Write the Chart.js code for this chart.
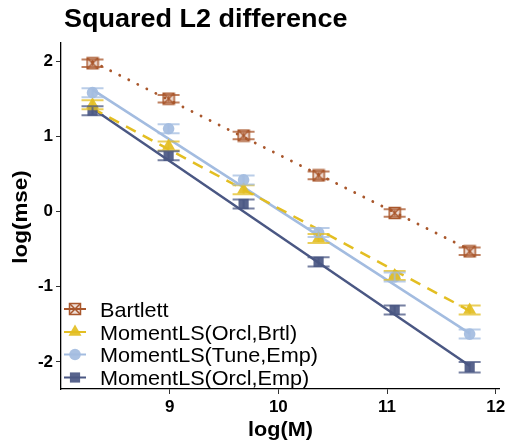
<!DOCTYPE html>
<html>
<head>
<meta charset="utf-8">
<script src="https://cdn.jsdelivr.net/npm/chart.js@4.4.1/dist/chart.umd.min.js"></script>
<style>
  html, body { margin: 0; padding: 0; background: #fff; }
</style>
</head>
<body>
<canvas id="mseChart" width="509" height="442"></canvas>
<script>
// x positions: log(M)
const logM = [8.29, 8.99, 9.68, 10.37, 11.07, 11.76];

// log(mse) per method
const bartlett = [1.97, 1.50, 1.01, 0.48, -0.02, -0.53];
const orclBrtl = [1.42, 0.87, 0.29, -0.36, -0.85, -1.31];
const tuneEmp  = [1.58, 1.10, 0.42, -0.28, -0.87, -1.63];
const orclEmp  = [1.34, 0.74, 0.10, -0.67, -1.31, -2.07];

// half-width of error bars
const bartlettErr = [0.05, 0.05, 0.05, 0.05, 0.05, 0.05];
const orclBrtlErr = [0.06, 0.06, 0.06, 0.06, 0.06, 0.06];
const tuneEmpErr  = [0.06, 0.06, 0.06, 0.06, 0.06, 0.06];
const orclEmpErr  = [0.06, 0.06, 0.06, 0.06, 0.06, 0.07];

// fitted line ends (at first and last log(M))
const fitX        = [8.29, 11.76];
const bartlettFit = [1.99, -0.51];
const orclBrtlFit = [1.37, -1.32];
const tuneEmpFit  = [1.62, -1.62];
const orclEmpFit  = [1.37, -2.05];

const seriesNames = ['Bartlett', 'MomentLS(Orcl,Brtl)', 'MomentLS(Tune,Emp)', 'MomentLS(Orcl,Emp)'];
const xTicks = [9, 10, 11, 12];
const yTicks = [-2, -1, 0, 1, 2];

const colors = ['#A9572C', '#E3BE22', '#A3BCE0', '#4A5783'];
const fills  = ['rgba(169,87,44,0.2)', 'rgba(227,190,34,0.92)', 'rgba(163,188,224,0.92)', 'rgba(74,87,131,0.92)'];

function boxCross(color, fill) {
    const c = document.createElement('canvas');
    c.width = 14; c.height = 14;
    const g = c.getContext('2d');
    g.fillStyle = fill;
    g.fillRect(1.5, 1.5, 11, 11);
    g.strokeStyle = color;
    g.lineWidth = 1.5;
    g.strokeRect(1.5, 1.5, 11, 11);
    g.beginPath();
    g.moveTo(1.5, 1.5); g.lineTo(12.5, 12.5);
    g.moveTo(12.5, 1.5); g.lineTo(1.5, 12.5);
    g.stroke();
    return c;
}

const pointStyles = [boxCross(colors[0], fills[0]), 'triangle', 'circle', 'rect'];
const pointRadii = [6, 7.5, 5.8, 7.2];

const values = [bartlett, orclBrtl, tuneEmp, orclEmp];
const errors = [bartlettErr, orclBrtlErr, tuneEmpErr, orclEmpErr];
const fits = [bartlettFit, orclBrtlFit, tuneEmpFit, orclEmpFit];
const dashes = [[0.1, 10], [11, 8], [], []];

const datasets = [];
values.forEach((vals, k) => {
    datasets.push({
        label: seriesNames[k],
        data: vals.map((v, i) => ({ x: logM[i], y: v })),
        showLine: false,
        pointStyle: pointStyles[k],
        pointRadius: pointRadii[k],
        pointBackgroundColor: fills[k],
        pointBorderColor: fills[k],
        pointBorderWidth: 0,
        order: 0
    });
});
fits.forEach((f, k) => {
    datasets.push({
        label: seriesNames[k] + ' fit',
        data: f.map((v, i) => ({ x: fitX[i], y: v })),
        showLine: true,
        borderColor: colors[k],
        borderWidth: k === 0 ? 2.8 : 2.5,
        borderDash: dashes[k],
        borderCapStyle: k === 0 ? 'round' : 'butt',
        pointRadius: 0,
        order: 1
    });
});

function txt(ctx, s, x, y, font, sx, align, rot) {
    ctx.save();
    ctx.translate(x, y);
    if (rot) ctx.rotate(rot);
    ctx.scale(sx, 1);
    ctx.font = font;
    ctx.textAlign = align;
    ctx.textBaseline = 'alphabetic';
    ctx.fillStyle = '#000';
    ctx.fillText(s, 0, 0);
    ctx.restore();
}

const decorations = {
    id: 'decorations',
    afterDatasetsDraw(chart) {
        const ctx = chart.ctx;
        const xs = chart.scales.x, ys = chart.scales.y;
        ctx.save();
        ctx.globalAlpha = 0.75;
        ctx.lineWidth = 2;
        values.forEach((vals, k) => {
            ctx.strokeStyle = colors[k];
            vals.forEach((v, i) => {
                const px = xs.getPixelForValue(logM[i]);
                const top = ys.getPixelForValue(v + errors[k][i]);
                const bot = ys.getPixelForValue(v - errors[k][i]);
                ctx.beginPath();
                ctx.moveTo(px, top); ctx.lineTo(px, bot);
                ctx.moveTo(px - 11, top); ctx.lineTo(px + 11, top);
                ctx.moveTo(px - 11, bot); ctx.lineTo(px + 11, bot);
                ctx.stroke();
            });
        });
        ctx.restore();
    },
    afterDraw(chart) {
        const ctx = chart.ctx;
        txt(ctx, 'Squared L2 difference', 64, 27, 'bold 25px "Liberation Sans"', 1.08, 'left');
        txt(ctx, 'log(M)', 280.5, 436, 'bold 20px "Liberation Sans"', 1.08, 'center');
        txt(ctx, 'log(mse)', 27, 217, 'bold 20px "Liberation Sans"', 1.12, 'center', -Math.PI / 2);

        // legend
        const baselines = [316.5, 339.5, 362, 385];
        seriesNames.forEach((name, k) => {
            const cy = baselines[k] - 7.5;
            ctx.save();
            ctx.strokeStyle = colors[k];
            ctx.lineWidth = 2;
            ctx.beginPath();
            ctx.moveTo(64, cy); ctx.lineTo(86, cy);
            ctx.stroke();
            ctx.fillStyle = fills[k];
            ctx.strokeStyle = fills[k];
            Chart.helpers.drawPoint(ctx, {
                pointStyle: pointStyles[k], radius: pointRadii[k], rotation: 0, borderWidth: 0
            }, 75, cy);
            ctx.restore();
            txt(ctx, name, 100, baselines[k], '21px "Liberation Sans"', 1.03, 'left');
        });
    }
};

const tickFont = { family: '"Liberation Sans"', size: 17, weight: 'bold' };

new Chart(document.getElementById('mseChart'), {
    type: 'scatter',
    data: { datasets: datasets },
    plugins: [decorations],
    options: {
        responsive: false,
        animation: false,
        layout: { padding: { top: 43, right: 10, left: 0, bottom: 0 } },
        plugins: { legend: { display: false }, tooltip: { enabled: false }, title: { display: false } },
        scales: {
            x: {
                type: 'linear',
                min: 8.0,
                max: 12.03,
                afterBuildTicks: s => { s.ticks = xTicks.map(v => ({ value: v })); },
                afterFit: s => { s.height = 53; },
                ticks: { font: tickFont, color: '#000', padding: 3, maxRotation: 0, autoSkip: false },
                grid: { drawOnChartArea: false, drawTicks: true, tickLength: 5, color: '#333' },
                border: { display: true, color: '#000', width: 1.3 }
            },
            y: {
                type: 'linear',
                min: -2.36,
                max: 2.24,
                afterBuildTicks: s => { s.ticks = yTicks.map(v => ({ value: v })); },
                afterFit: s => { s.width = 61; },
                ticks: { font: tickFont, color: '#000', padding: 3, autoSkip: false },
                grid: { drawOnChartArea: false, drawTicks: true, tickLength: 5, color: '#333' },
                border: { display: true, color: '#000', width: 1.3 }
            }
        }
    }
});
</script>
</body>
</html>
